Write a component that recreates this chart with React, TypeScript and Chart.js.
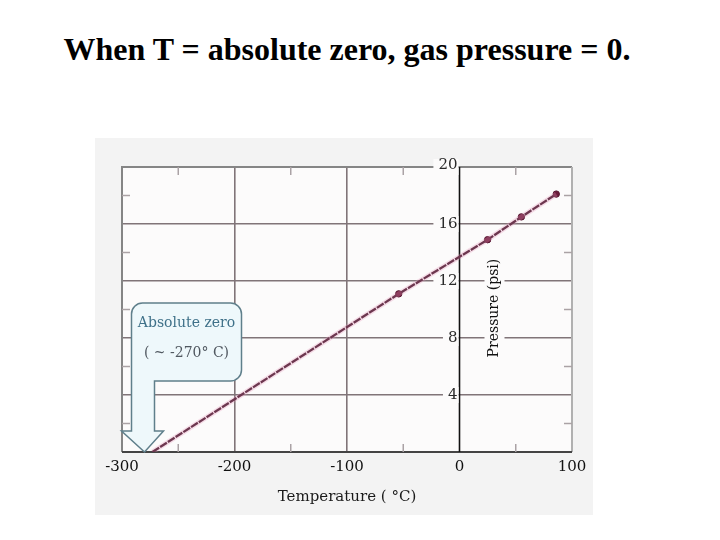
import { useEffect, useRef } from 'react';
import Chart from 'chart.js/auto';

// Gas pressure vs temperature (absolute zero extrapolation)
const xTicks = [-300, -200, -100, 0, 100];
const yTicks = [0, 4, 8, 12, 16, 20];
const yLabels = [4, 8, 12, 16, 20];
const minorX = [-250, -150, -50, 50];
const minorY = [2, 6, 10, 14, 18];
const tempC = [-54, 25, 55, 86];
const pressurePsi = [11.1, 14.9, 16.5, 18.1];
const absZero = -273;
const arrowAt = -280;

const SERIF = '"DejaVu Serif", serif';
const PLOT_BG = '#fcfbfb';
const GRID = '#807478';

const overlay = {
  id: 'overlay',
  beforeDraw(chart: Chart) {
    const { ctx, chartArea: a, width, height } = chart;
    ctx.save();
    ctx.fillStyle = '#f3f3f3';
    ctx.fillRect(0, 0, width, height);
    ctx.fillStyle = PLOT_BG;
    ctx.fillRect(a.left, a.top, a.right - a.left, a.bottom - a.top);
    ctx.restore();
  },
  beforeDatasetsDraw(chart: Chart) {
    const { ctx, chartArea: a } = chart;
    const xs = chart.scales.x;
    const ys = chart.scales.y;
    ctx.save();

    // frame
    ctx.lineWidth = 2;
    ctx.strokeStyle = '#858585';
    ctx.beginPath();
    ctx.moveTo(a.left, a.bottom);
    ctx.lineTo(a.left, a.top);
    ctx.lineTo(a.right, a.top);
    ctx.stroke();
    ctx.strokeStyle = '#b0b0b0';
    ctx.beginPath();
    ctx.moveTo(a.right, a.top);
    ctx.lineTo(a.right, a.bottom);
    ctx.stroke();
    ctx.strokeStyle = '#444';
    ctx.beginPath();
    ctx.moveTo(a.left, a.bottom);
    ctx.lineTo(a.right, a.bottom);
    ctx.stroke();

    // minor ticks
    ctx.lineWidth = 1.5;
    ctx.strokeStyle = '#aaa2a5';
    minorX.forEach((v) => {
      const px = xs.getPixelForValue(v);
      ctx.beginPath();
      ctx.moveTo(px, a.bottom);
      ctx.lineTo(px, a.bottom - 8);
      ctx.moveTo(px, a.top);
      ctx.lineTo(px, a.top + 8);
      ctx.stroke();
    });
    minorY.forEach((v) => {
      const py = ys.getPixelForValue(v);
      ctx.beginPath();
      ctx.moveTo(a.left, py);
      ctx.lineTo(a.left + 8, py);
      ctx.moveTo(a.right, py);
      ctx.lineTo(a.right - 8, py);
      ctx.stroke();
    });

    // y axis at x = 0
    const x0 = xs.getPixelForValue(0);
    ctx.strokeStyle = '#111';
    ctx.lineWidth = 1.6;
    ctx.beginPath();
    ctx.moveTo(x0, a.top);
    ctx.lineTo(x0, a.bottom);
    ctx.stroke();

    // y tick labels with backdrop
    ctx.font = `15px ${SERIF}`;
    ctx.textAlign = 'right';
    ctx.textBaseline = 'middle';
    yLabels.forEach((v) => {
      const py = ys.getPixelForValue(v);
      const w = ctx.measureText(String(v)).width;
      ctx.fillStyle = PLOT_BG;
      ctx.fillRect(x0 - w - 7, py - 8, w + 6, 16);
      ctx.fillStyle = '#2a2a2a';
      ctx.fillText(String(v), x0 - 2, v === 20 ? py - 2 : py);
    });

    // y title, rotated
    const ty = ys.getPixelForValue(10.1);
    const tx = x0 + 35;
    ctx.fillStyle = PLOT_BG;
    ctx.fillRect(tx - 10, ty - 58, 20, 116);
    ctx.save();
    ctx.translate(tx, ty);
    ctx.rotate(-Math.PI / 2);
    ctx.font = `14px ${SERIF}`;
    ctx.textAlign = 'center';
    ctx.textBaseline = 'middle';
    ctx.fillStyle = '#111';
    ctx.fillText('Pressure (psi)', 0, 0);
    ctx.restore();

    // callout with arrow to absolute zero
    const px = xs.getPixelForValue(arrowAt);
    const py = ys.getPixelForValue(0);
    const L = px - 13, R = px + 97, T = py - 149, B = py - 71, r = 11;
    const S = px + 10, H = py - 21;
    ctx.beginPath();
    ctx.moveTo(S, B);
    ctx.lineTo(R - r, B);
    ctx.arcTo(R, B, R, B - r, r);
    ctx.lineTo(R, T + r);
    ctx.arcTo(R, T, R - r, T, r);
    ctx.lineTo(L + r, T);
    ctx.arcTo(L, T, L, T + r, r);
    ctx.lineTo(L, H);
    ctx.lineTo(px - 23, H);
    ctx.lineTo(px, py);
    ctx.lineTo(px + 19, H);
    ctx.lineTo(S, H);
    ctx.closePath();
    ctx.fillStyle = '#eef8fb';
    ctx.fill();
    ctx.strokeStyle = '#5f7f8b';
    ctx.lineWidth = 1.5;
    ctx.stroke();

    ctx.font = `14px ${SERIF}`;
    ctx.textAlign = 'center';
    ctx.textBaseline = 'middle';
    ctx.fillStyle = '#3f7189';
    ctx.fillText('Absolute zero', (L + R) / 2, T + 20);
    ctx.fillStyle = '#505860';
    ctx.fillText('( ~ -270° C)', (L + R) / 2, T + 50);

    ctx.restore();
  },
};

export default function App() {
  const canvasRef = useRef<HTMLCanvasElement>(null);

  useEffect(() => {
    const canvas = canvasRef.current;
    if (!canvas) return;

    const line = [{ x: absZero, y: 0 }, ...tempC.map((t, i) => ({ x: t, y: pressurePsi[i] }))];

    const chart = new Chart(canvas, {
      type: 'scatter',
      data: {
        datasets: [
          {
            label: 'glow',
            data: line,
            showLine: true,
            borderColor: 'rgba(230, 150, 185, 0.3)',
            borderWidth: 5,
            pointRadius: 0,
          },
          {
            label: 'Pressure',
            data: line,
            showLine: true,
            borderColor: '#3a0f22',
            borderWidth: 2.3,
            borderDash: [8, 1.2],
            pointRadius: line.map((_, i) => (i === 0 ? 0 : 3.2)),
            pointBackgroundColor: '#6a1a3a',
            pointBorderColor: '#55152f',
            pointBorderWidth: 1,
          },
        ],
      },
      options: {
        animation: false,
        responsive: false,
        events: [],
        layout: { padding: { left: 27, right: 21, top: 29, bottom: 0 } },
        plugins: {
          legend: { display: false },
          tooltip: { enabled: false },
        },
        scales: {
          x: {
            type: 'linear',
            min: -300,
            max: 100,
            afterBuildTicks: (s) => {
              s.ticks = xTicks.map((value) => ({ value }));
            },
            afterFit: (s) => {
              s.height = 63;
            },
            border: { display: false },
            grid: {
              drawTicks: false,
              lineWidth: 1.6,
              color: (c) => (c.tick && (c.tick.value === -200 || c.tick.value === -100) ? GRID : 'transparent'),
            },
            ticks: {
              padding: 6,
              color: '#111',
              font: { family: SERIF, size: 15 },
              callback: (v) => String(v),
            },
            title: {
              display: true,
              text: 'Temperature ( °C)',
              color: '#1a1a1a',
              font: { family: SERIF, size: 15 },
              padding: { top: 10, bottom: 9 },
            },
          },
          y: {
            type: 'linear',
            min: 0,
            max: 20,
            afterBuildTicks: (s) => {
              s.ticks = yTicks.map((value) => ({ value }));
            },
            afterFit: (s) => {
              s.width = 0;
            },
            border: { display: false },
            grid: {
              drawTicks: false,
              lineWidth: 1.6,
              color: (c) => (c.tick && c.tick.value > 0 && c.tick.value < 20 ? GRID : 'transparent'),
            },
            ticks: { display: false },
          },
        },
      },
      plugins: [overlay],
    });

    return () => chart.destroy();
  }, []);

  return (
    <div style={{ position: 'fixed', left: 0, top: 0, width: 720, height: 540, background: '#fff' }}>
      <div
        style={{
          position: 'absolute',
          left: 0,
          width: 694,
          top: 31,
          textAlign: 'center',
          fontFamily: '"Liberation Serif", serif',
          fontWeight: 'bold',
          fontSize: 32,
          color: '#000',
          whiteSpace: 'nowrap',
        }}
      >
        When T = absolute zero, gas pressure = 0.
      </div>
      <canvas
        ref={canvasRef}
        width={498}
        height={377}
        style={{ position: 'absolute', left: 95, top: 138, width: 498, height: 377 }}
      />
    </div>
  );
}
